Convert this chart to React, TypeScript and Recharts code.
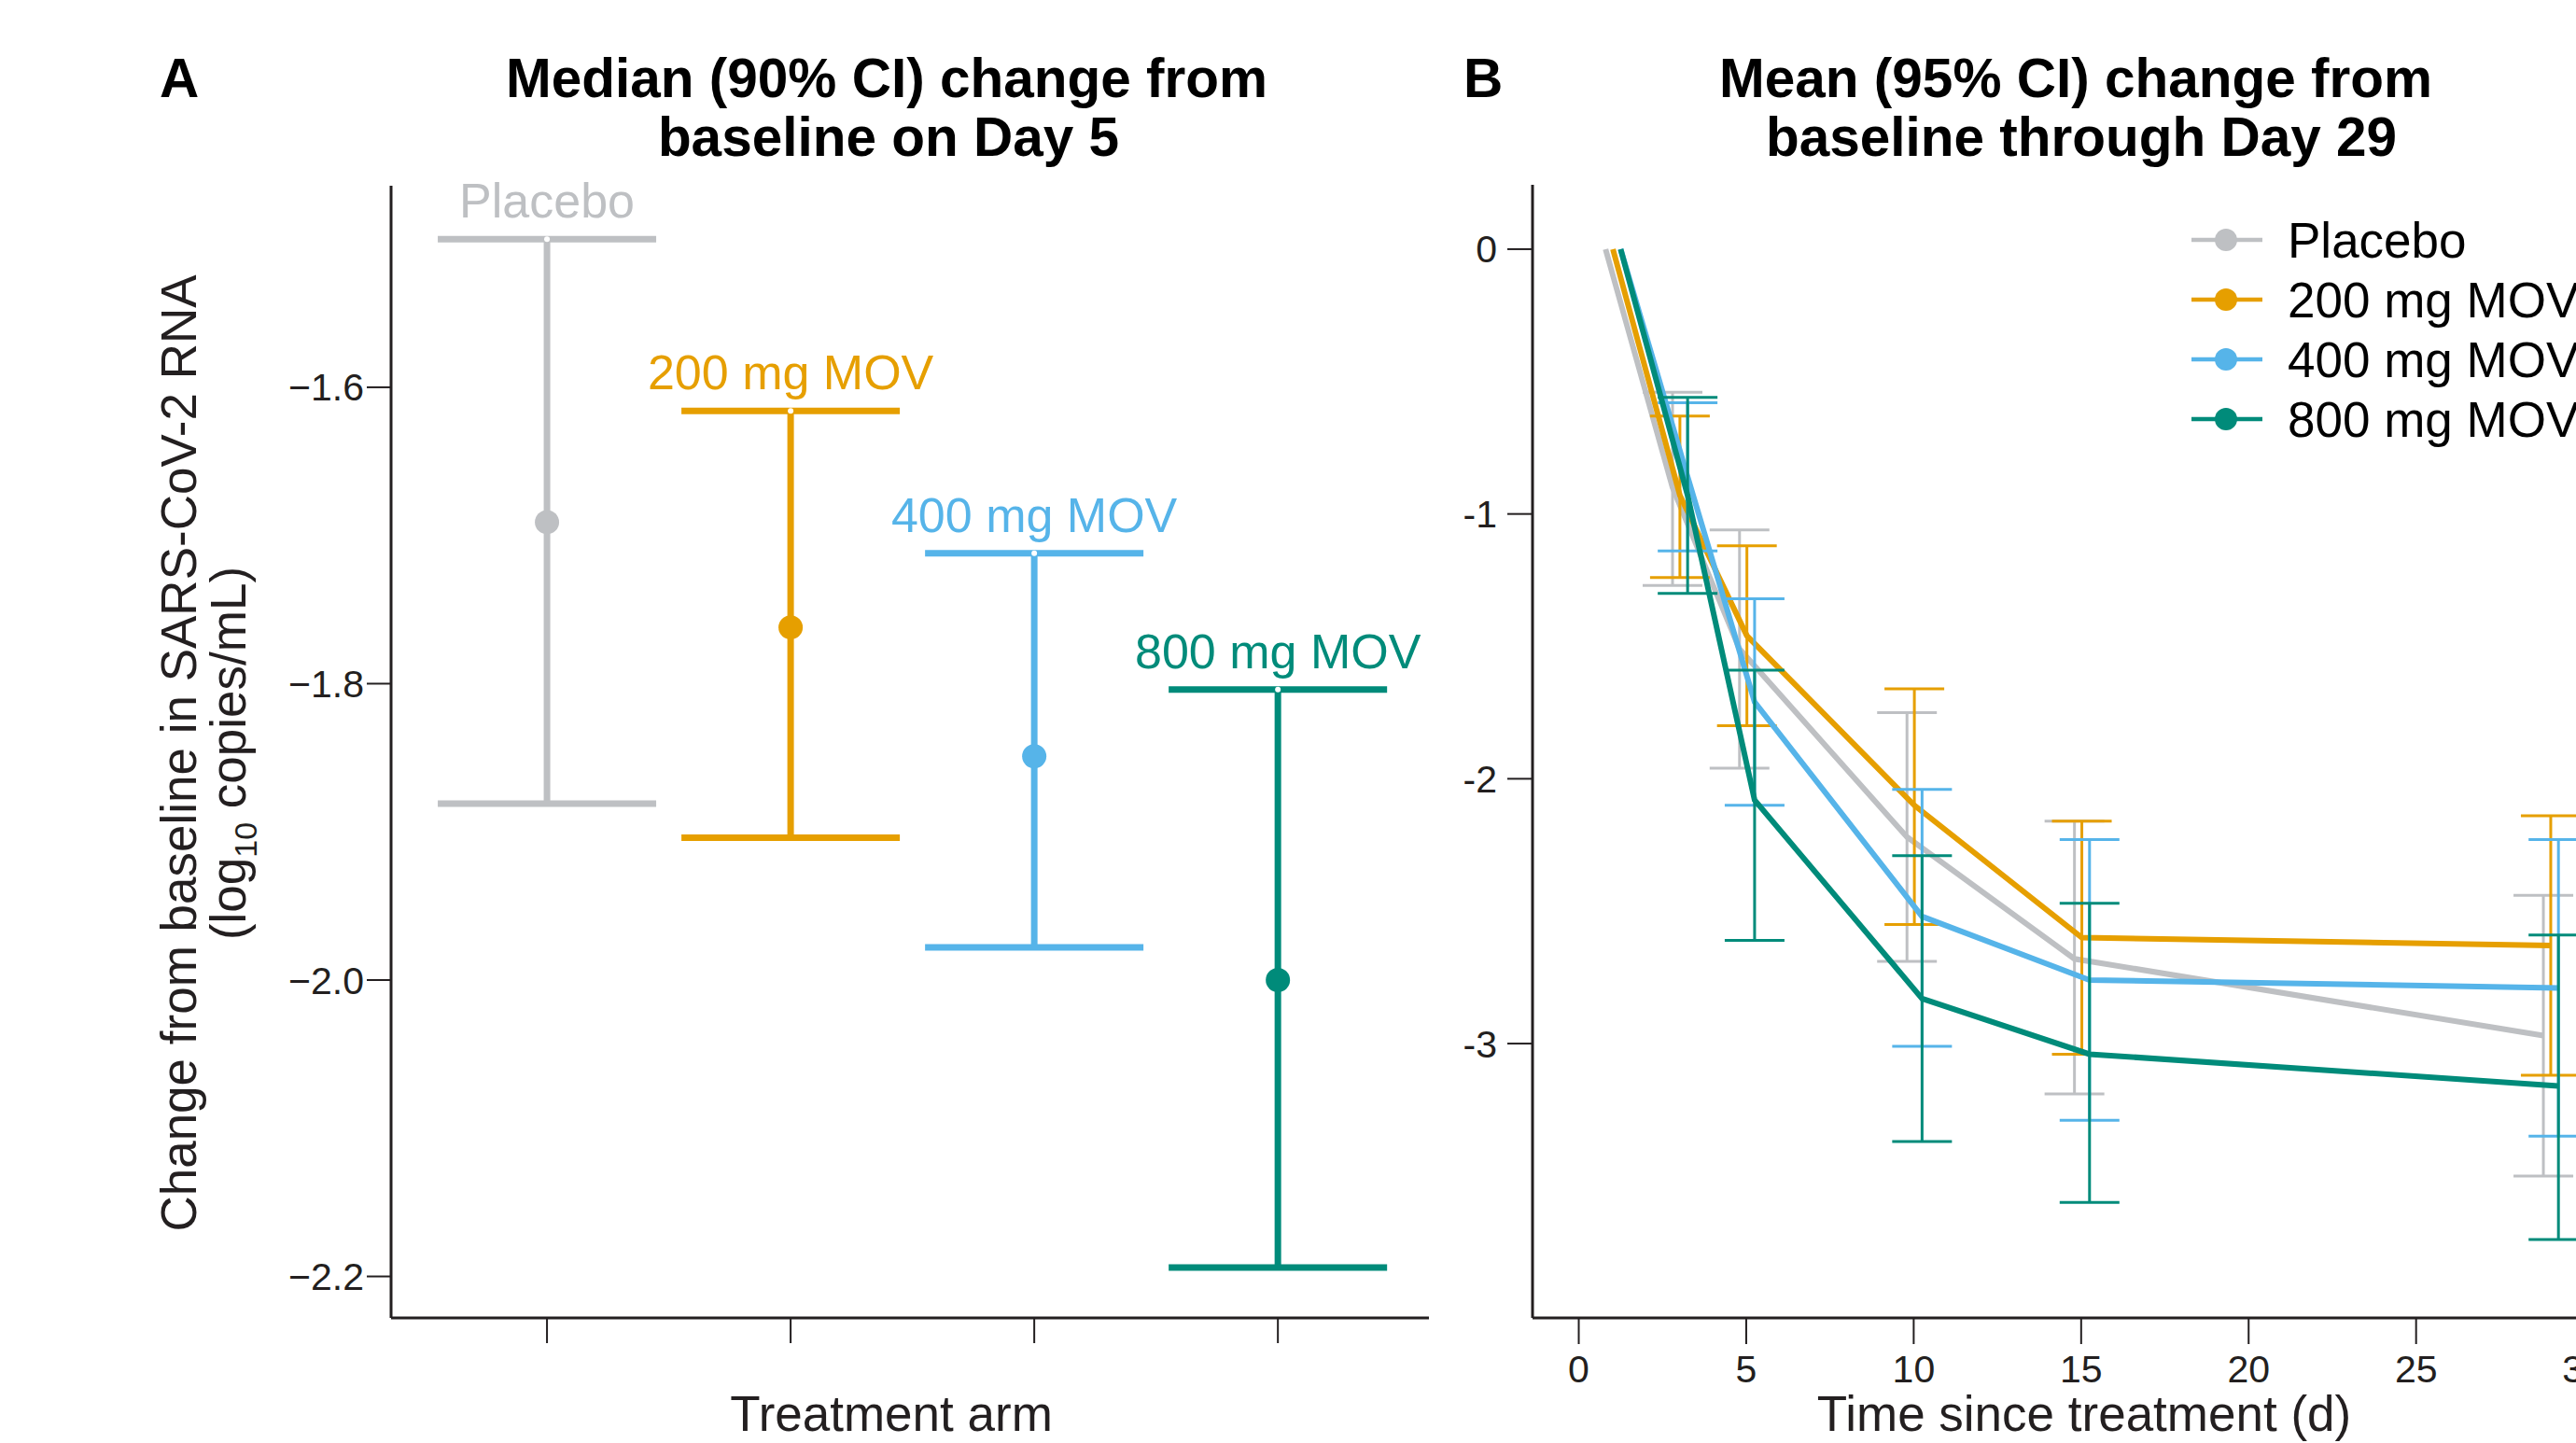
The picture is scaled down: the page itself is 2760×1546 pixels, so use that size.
import React from 'react';
import { ComposedChart, Line, XAxis, YAxis, ErrorBar, LabelList } from 'recharts';

const FONT = '"Liberation Sans", Arial, Helvetica, sans-serif';
const INK = '#231F20';

// ---------- Panel A: median (90% CI) change on Day 5 ----------
const arms = ['Placebo', '200 mg MOV', '400 mg MOV', '800 mg MOV'];
const armColors = ['#BEC0C3', '#E69F00', '#56B4E9', '#008B7A'];
const armPos = [1, 2, 3, 4];
const day5Median = [-1.691, -1.762, -1.849, -2.0];
const day5Lower = [-1.881, -1.904, -1.978, -2.194];
const day5Upper = [-1.5, -1.616, -1.712, -1.804];
const yTicksA = [-2.2, -2.0, -1.8, -1.6];

// ---------- Panel B: mean (95% CI) change through Day 29 ----------
const days = [1, 3, 5, 10, 15, 29];
const dodge = [-0.2, 0.02, 0.25, 0.25];
const meanPlacebo = [0, -0.9, -1.51, -2.22, -2.68, -2.97];
const lowPlacebo = [null, -1.27, -1.96, -2.69, -3.19, -3.5];
const highPlacebo = [null, -0.54, -1.06, -1.75, -2.16, -2.44];
const mean200 = [0, -0.93, -1.46, -2.1, -2.6, -2.63];
const low200 = [null, -1.24, -1.8, -2.55, -3.04, -3.12];
const high200 = [null, -0.63, -1.12, -1.66, -2.16, -2.14];
const mean400 = [0, -0.86, -1.71, -2.52, -2.76, -2.79];
const low400 = [null, -1.14, -2.1, -3.01, -3.29, -3.35];
const high400 = [null, -0.58, -1.32, -2.04, -2.23, -2.23];
const mean800 = [0, -0.93, -2.08, -2.83, -3.04, -3.16];
const low800 = [null, -1.3, -2.61, -3.37, -3.6, -3.74];
const high800 = [null, -0.56, -1.59, -2.29, -2.47, -2.59];
const xTicksB = [0, 5, 10, 15, 20, 25, 30];
const yTicksB = [-3, -2, -1, 0];

const seriesB = [
  { mean: meanPlacebo, low: lowPlacebo, high: highPlacebo },
  { mean: mean200, low: low200, high: high200 },
  { mean: mean400, low: low400, high: high400 },
  { mean: mean800, low: low800, high: high800 },
];

const rowsA = arms.map((name, i) => ({
  x: armPos[i],
  name,
  median: day5Median[i],
  hi: day5Upper[i],
  err: [day5Median[i] - day5Lower[i], day5Upper[i] - day5Median[i]],
}));

const rowsB = seriesB.map((s, k) =>
  days.map((d, j) => ({
    x: d + dodge[k],
    y: s.mean[j],
    err:
      s.low[j] == null || s.high[j] == null
        ? null
        : [s.mean[j] - (s.low[j] as number), (s.high[j] as number) - s.mean[j]],
  }))
);

const tickStyleA = { fill: INK, fontSize: 41, fontFamily: FONT };
const tickStyleB = { fill: INK, fontSize: 41, fontFamily: FONT };

function PanelA() {
  return (
    <ComposedChart
      width={1600}
      height={1546}
      margin={{ top: 199, right: 69, bottom: 54, left: 319 }}
    >
      <XAxis
        type="number"
        dataKey="x"
        domain={[0.36, 4.62]}
        ticks={armPos}
        interval={0}
        allowDataOverflow
        height={80}
        tickSize={27}
        tickLine={{ stroke: INK, strokeWidth: 2 }}
        axisLine={{ stroke: INK, strokeWidth: 3 }}
        tickFormatter={() => ''}
      />
      <YAxis
        type="number"
        domain={[-2.228, -1.464]}
        ticks={yTicksA}
        interval={0}
        allowDataOverflow
        width={100}
        tickSize={26}
        tickMargin={3}
        tick={tickStyleA}
        tickLine={{ stroke: INK, strokeWidth: 2 }}
        axisLine={{ stroke: INK, strokeWidth: 3 }}
        tickFormatter={(v: number) => v.toFixed(1).replace('-', '\u2212')}
      />
      {rowsA.map((r, i) => (
        <Line
          key={'pt' + i}
          data={[r]}
          dataKey="median"
          stroke="none"
          isAnimationActive={false}
          dot={{ r: 13, fill: armColors[i], stroke: 'none' }}
          activeDot={false}
        >
          <ErrorBar
            dataKey="err"
            direction="y"
            width={117}
            stroke={armColors[i]}
            strokeWidth={7}
            isAnimationActive={false}
          />
        </Line>
      ))}
      {rowsA.map((r, i) => (
        <Line
          key={'lb' + i}
          data={[r]}
          dataKey="hi"
          stroke="none"
          dot={false}
          activeDot={false}
          isAnimationActive={false}
        >
          <LabelList
            dataKey="name"
            position="top"
            offset={23}
            fill={armColors[i]}
            fontSize={52}
            fontFamily={FONT}
          />
        </Line>
      ))}
    </ComposedChart>
  );
}

function PanelB() {
  return (
    <ComposedChart
      width={1504}
      height={1546}
      margin={{ top: 198, right: 100, bottom: 54, left: 142 }}
    >
      <XAxis
        type="number"
        dataKey="x"
        domain={[-1.38, 31]}
        ticks={xTicksB}
        interval={0}
        allowDataOverflow
        height={80}
        tickSize={28}
        tickMargin={12}
        tick={tickStyleB}
        tickLine={{ stroke: INK, strokeWidth: 2 }}
        axisLine={{ stroke: INK, strokeWidth: 3 }}
      />
      <YAxis
        type="number"
        domain={[-4.036, 0.243]}
        ticks={yTicksB}
        interval={0}
        allowDataOverflow
        width={100}
        tickSize={27}
        tickMargin={11}
        tick={tickStyleB}
        tickLine={{ stroke: INK, strokeWidth: 2 }}
        axisLine={{ stroke: INK, strokeWidth: 3 }}
        tickFormatter={(v: number) => String(v)}
      />
      {rowsB.map((rows, k) => (
        <Line
          key={'s' + k}
          data={rows}
          dataKey="y"
          type="linear"
          stroke={armColors[k]}
          strokeWidth={6}
          dot={false}
          activeDot={false}
          isAnimationActive={false}
        >
          <ErrorBar
            dataKey="err"
            direction="y"
            width={32}
            stroke={armColors[k]}
            strokeWidth={3}
            isAnimationActive={false}
          />
        </Line>
      ))}
    </ComposedChart>
  );
}

function Overlay() {
  const legendY = [257, 321, 385, 449];
  return (
    <svg
      width={2760}
      height={1546}
      style={{ position: 'absolute', left: 0, top: 0, pointerEvents: 'none' }}
      fontFamily={FONT}
    >
      <text x={171} y={104} fontSize={58.5} fontWeight="bold" fill="#000">A</text>
      <text x={950} y={104} fontSize={58.5} fontWeight="bold" fill="#000" textAnchor="middle">
        Median (90% CI) change from
      </text>
      <text x={952} y={167} fontSize={58.5} fontWeight="bold" fill="#000" textAnchor="middle">
        baseline on Day 5
      </text>
      <text x={1568} y={104} fontSize={58.5} fontWeight="bold" fill="#000">B</text>
      <text x={2224} y={104} fontSize={58.5} fontWeight="bold" fill="#000" textAnchor="middle">
        Mean (95% CI) change from
      </text>
      <text x={2230} y={167} fontSize={58.5} fontWeight="bold" fill="#000" textAnchor="middle">
        baseline through Day 29
      </text>

      <text x={955} y={1533} fontSize={53} fill={INK} textAnchor="middle">Treatment arm</text>
      <text x={2233} y={1533} fontSize={53} fill={INK} textAnchor="middle">
        Time since treatment (d)
      </text>

      <g transform="translate(210,807) rotate(-90)">
        <text x={0} y={0} fontSize={53} fill={INK} textAnchor="middle">
          Change from baseline in SARS-CoV-2 RNA
        </text>
      </g>
      <g transform="translate(263,807) rotate(-90)">
        <text x={0} y={0} fontSize={53} fill={INK} textAnchor="middle">
          (log<tspan fontSize={34} dy={12}>10</tspan>
          <tspan dy={-12}> copies/mL)</tspan>
        </text>
      </g>

      {arms.map((name, i) => (
        <g key={name}>
          <line x1={2348} x2={2424} y1={legendY[i]} y2={legendY[i]} stroke={armColors[i]} strokeWidth={4.5} />
          <circle cx={2385} cy={legendY[i]} r={12} fill={armColors[i]} />
          <text x={2451} y={legendY[i] + 18.5} fontSize={53} fill="#000">{name}</text>
        </g>
      ))}
    </svg>
  );
}

export default function App() {
  return (
    <div
      style={{
        position: 'fixed',
        left: 0,
        top: 0,
        width: 2760,
        height: 1546,
        overflow: 'hidden',
        background: '#ffffff',
        fontFamily: FONT,
      }}
    >
      <div style={{ position: 'absolute', left: 0, top: 0 }}>
        <PanelA />
      </div>
      <div style={{ position: 'absolute', left: 1400, top: 0 }}>
        <PanelB />
      </div>
      <Overlay />
    </div>
  );
}
